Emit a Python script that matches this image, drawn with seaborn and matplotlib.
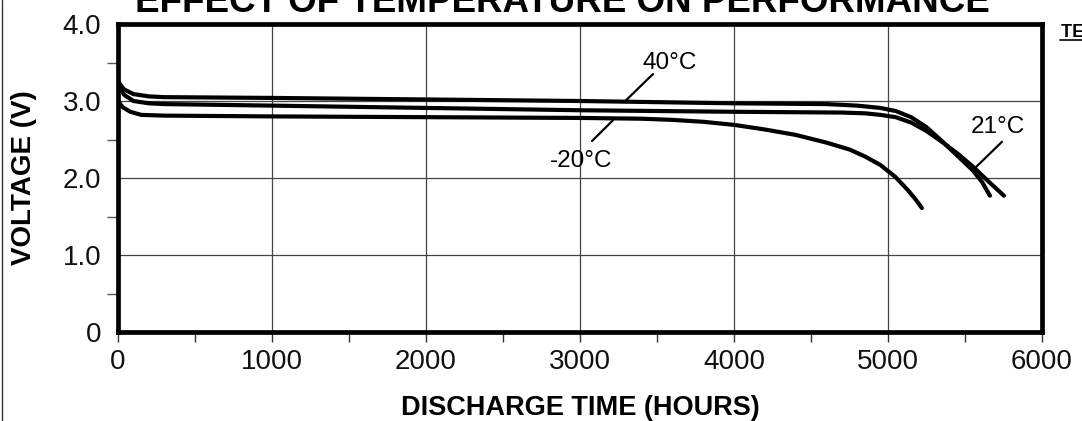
import numpy as np
import pandas as pd
import seaborn as sns
import matplotlib
matplotlib.use("Agg")
import matplotlib.pyplot as plt
from matplotlib.lines import Line2D
from matplotlib.ticker import MultipleLocator, FixedLocator

# ---- data ----
hours_40 = [0, 40, 100, 200, 300, 1000, 2000, 3000, 4000, 4600, 4800, 4950, 5050, 5150, 5250, 5350, 5450, 5550, 5610, 5662]
volt_40 = [3.25, 3.15, 3.09, 3.06, 3.05, 3.04, 3.02, 3.00, 2.97, 2.96, 2.94, 2.91, 2.87, 2.79, 2.66, 2.48, 2.29, 2.10, 1.95, 1.77]

hours_21 = [0, 40, 100, 200, 300, 1000, 2000, 3000, 4000, 4700, 4850, 4950, 5050, 5150, 5250, 5350, 5450, 5550, 5650, 5753]
volt_21 = [3.20, 3.08, 3.00, 2.97, 2.96, 2.94, 2.91, 2.88, 2.86, 2.85, 2.84, 2.82, 2.79, 2.72, 2.61, 2.47, 2.32, 2.15, 1.96, 1.77]

hours_m20 = [0, 30, 80, 150, 300, 1000, 2000, 3000, 3400, 3600, 3800, 4000, 4200, 4400, 4600, 4750, 4850, 4950, 5050, 5130, 5180, 5220]
volt_m20 = [3.00, 2.92, 2.86, 2.82, 2.81, 2.80, 2.79, 2.78, 2.77, 2.755, 2.73, 2.69, 2.63, 2.56, 2.46, 2.37, 2.28, 2.17, 2.01, 1.84, 1.72, 1.61]

series_names = ["40°C", "21°C", "-20°C"]
x_ticks = [0, 1000, 2000, 3000, 4000, 5000, 6000]
x_ticklabels = ["0", "1000", "2000", "3000", "4000", "5000", "6000"]
y_ticks = [0, 1, 2, 3, 4]
y_ticklabels = ["0", "1.0", "2.0", "3.0", "4.0"]

# label positions (text anchor, pointer start, pointer end) in data units
label_text_pos = {"40°C": (3584, 3.49), "-20°C": (3006, 2.22), "21°C": (5714, 2.66)}
pointer_start = {"40°C": (3474, 3.35), "-20°C": (3078, 2.48), "21°C": (5740, 2.47)}
pointer_end = {"40°C": (3299, 3.01), "-20°C": (3214, 2.75), "21°C": (5565, 2.13)}

df = pd.concat([
    pd.DataFrame({"hours": hours_40, "volts": volt_40, "temp": "40°C"}),
    pd.DataFrame({"hours": hours_21, "volts": volt_21, "temp": "21°C"}),
    pd.DataFrame({"hours": hours_m20, "volts": volt_m20, "temp": "-20°C"}),
], ignore_index=True)

sns.set_theme(style="white")
plt.rcParams["font.family"] = ["Liberation Sans", "DejaVu Sans"]

fig = plt.figure(figsize=(10.82, 4.21), dpi=100)
ax = fig.add_axes([118 / 1082, 1 - 332 / 421, 924 / 1082, 308 / 421])

sns.lineplot(data=df, x="hours", y="volts", hue="temp", hue_order=series_names,
             palette=["black"] * 3, sort=False, estimator=None, linewidth=3.0,
             legend=False, ax=ax, zorder=3)

ax.set_xlim(0, 6000)
ax.set_ylim(0, 4)

ax.xaxis.set_major_locator(FixedLocator(x_ticks))
ax.set_xticklabels(x_ticklabels)
ax.xaxis.set_minor_locator(MultipleLocator(500))
ax.yaxis.set_major_locator(FixedLocator(y_ticks))
ax.set_yticklabels(y_ticklabels)
ax.yaxis.set_minor_locator(MultipleLocator(0.5))

ax.tick_params(axis="x", which="both", direction="out", length=7, width=1,
               color="#333333", labelsize=20, pad=5, bottom=True)
ax.tick_params(axis="y", which="major", length=0, labelsize=20, pad=12, left=True)
ax.tick_params(axis="y", which="minor", direction="out", length=8, width=1,
               color="#555555", left=True)
for lab in ax.get_xticklabels() + ax.get_yticklabels():
    lab.set_color("#111111")

ax.grid(True, which="major", color="#444444", linewidth=0.9)
ax.set_axisbelow(True)
for s in ax.spines.values():
    s.set_color("black")
    s.set_linewidth(3.4)
    s.set_visible(True)
    s.set_zorder(5)

ax.set_xlabel("DISCHARGE TIME (HOURS)", fontsize=19.5, fontweight="bold", color="black")
ax.xaxis.set_label_coords(0.5, -0.205)
ax.xaxis.label.set_va("top")
ax.set_ylabel("VOLTAGE (V)", fontsize=20, fontweight="bold", color="black")
ax.yaxis.set_label_coords(-0.088, 0.5)

for name in series_names:
    tx, ty = label_text_pos[name]
    ax.text(tx, ty, name, fontsize=17.5, ha="center", va="center", color="black", zorder=6)
    ax.annotate("", xy=pointer_end[name], xytext=pointer_start[name],
                arrowprops=dict(arrowstyle="-", color="black", lw=1.6,
                                shrinkA=0, shrinkB=0), zorder=6)

fig.text(562 / 1082, 1 - 12 / 421, "EFFECT OF TEMPERATURE ON PERFORMANCE",
         fontsize=26.5, fontweight="bold", ha="center", va="baseline", color="black")
fig.text(1061 / 1082, 1 - 37 / 421, "TEST CONDITIONS", fontsize=13,
         fontweight="bold", ha="left", va="baseline", color="black")
fig.add_artist(Line2D([1060 / 1082, 1.0], [1 - 40 / 421] * 2, transform=fig.transFigure,
                      color="black", linewidth=1.2))
fig.add_artist(Line2D([2 / 1082] * 2, [0, 1], transform=fig.transFigure,
                      color="#333333", linewidth=1.0))

fig.savefig("out.png", dpi=100)
